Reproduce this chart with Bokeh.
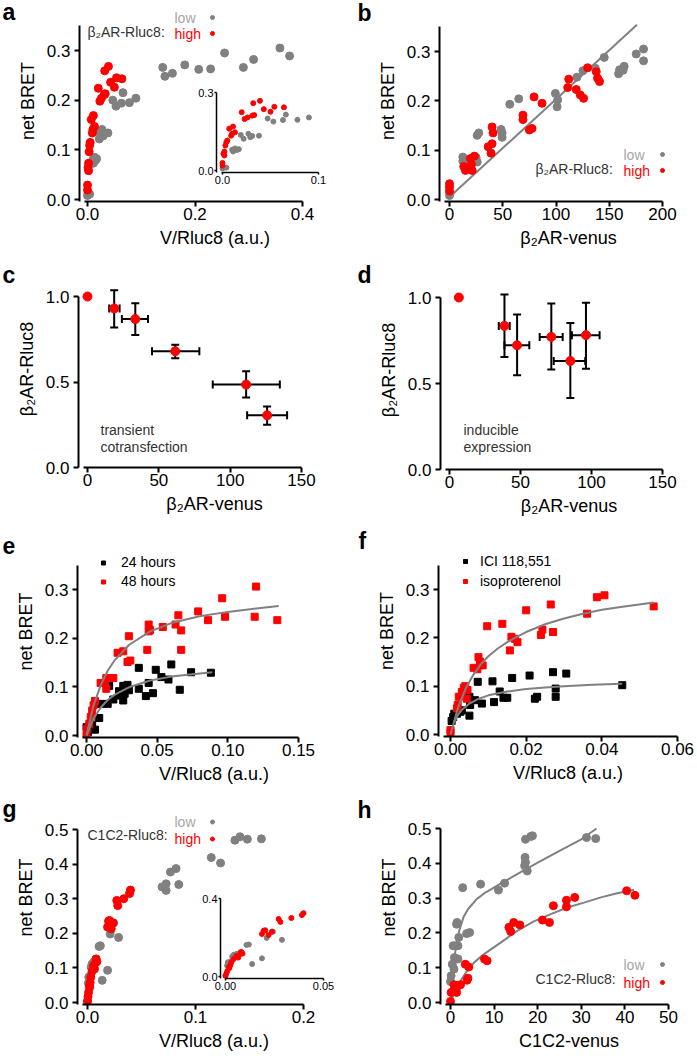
from bokeh.plotting import figure
from bokeh.models import (Range1d, Label, Legend, LegendItem, Whisker, TeeHead,
                          ColumnDataSource, FixedTicker, PrintfTickFormatter)
from bokeh.layouts import column, row
from bokeh.embed import file_html
from bokeh.resources import INLINE

# ---------------- data ----------------
# a: beta2AR-Rluc8 low / high, V/Rluc8 vs net BRET
a_low_x = [0.000, 0.001, 0.004, 0.010, 0.011, 0.013, 0.015, 0.017, 0.019, 0.022,
           0.027, 0.029, 0.031, 0.038, 0.047, 0.053, 0.063, 0.066, 0.078, 0.090,
           0.140, 0.144, 0.158, 0.181, 0.207, 0.229, 0.255, 0.290, 0.309, 0.358, 0.376]
a_low_y = [0.008, 0.013, 0.011, 0.080, 0.073, 0.085, 0.079, 0.082, 0.137, 0.122,
           0.141, 0.128, 0.133, 0.134, 0.200, 0.188, 0.194, 0.215, 0.195, 0.204,
           0.266, 0.248, 0.254, 0.271, 0.262, 0.263, 0.295, 0.266, 0.282, 0.305, 0.289]
a_high_x = [0.000, 0.000, 0.001, 0.002, 0.002, 0.003, 0.004, 0.005, 0.007, 0.009,
            0.010, 0.011, 0.013, 0.020, 0.023, 0.026, 0.031, 0.033, 0.032, 0.039,
            0.043, 0.050, 0.054, 0.064]
a_high_y = [0.019, 0.029, 0.064, 0.073, 0.058, 0.096, 0.109, 0.115, 0.161, 0.134,
            0.141, 0.169, 0.147, 0.224, 0.198, 0.204, 0.211, 0.213, 0.259, 0.268,
            0.236, 0.226, 0.245, 0.243]

# b: beta2AR-venus vs net BRET
b_low_x = [0, 0.5, 12.5, 12.5, 15, 26, 27.5, 26, 25, 48.4, 49.4, 49.4, 56.6, 65,
           99.4, 101.6, 101, 119.7, 125.3, 136.9, 145.3, 158.8, 159.7, 164, 163,
           175.3, 182.2, 182.2]
b_low_y = [0.008, 0.012, 0.086, 0.078, 0.080, 0.130, 0.135, 0.076, 0.085, 0.142,
           0.135, 0.126, 0.193, 0.204, 0.215, 0.202, 0.188, 0.248, 0.261, 0.266,
           0.288, 0.255, 0.263, 0.270, 0.262, 0.295, 0.305, 0.281]
b_high_x = [0, 0, 0, 13.4, 15, 19.7, 20.6, 21.3, 23.4, 36.3, 39, 40, 40, 40.9, 69,
            69, 75, 77.5, 79.4, 86.9, 112, 111, 119, 122.8, 125.9, 129.7, 137.8,
            139, 140.9]
b_high_y = [0.032, 0.025, 0.017, 0.067, 0.059, 0.083, 0.071, 0.059, 0.088, 0.107,
            0.094, 0.113, 0.147, 0.135, 0.171, 0.162, 0.141, 0.144, 0.208, 0.195,
            0.244, 0.227, 0.223, 0.212, 0.205, 0.267, 0.259, 0.246, 0.239]
b_line_x = [0, 176]
b_line_y = [0.005, 0.354]

# c: transient cotransfection (mean with x/y error bars)
c_x = [0, 18.7, 33.5, 61.5, 111.2, 125.9]
c_y = [1.0, 0.930, 0.868, 0.680, 0.485, 0.305]
c_x_lo = [0, 15.2, 24.1, 45.2, 87.8, 111.9]
c_x_hi = [0, 22.5, 42.4, 78.4, 134.8, 139.9]
c_y_lo = [1.0, 0.819, 0.775, 0.639, 0.410, 0.250]
c_y_hi = [1.0, 1.037, 0.961, 0.718, 0.563, 0.357]

# d: inducible expression
d_x = [6.6, 38.7, 47.6, 71.7, 85.1, 96.1]
d_y = [1.0, 0.835, 0.722, 0.771, 0.631, 0.781]
d_x_lo = [6.6, 34.7, 38.7, 63.5, 73.4, 86.2]
d_x_hi = [6.6, 42.4, 56.2, 79.7, 95.6, 105.7]
d_y_lo = [1.0, 0.654, 0.548, 0.581, 0.416, 0.586]
d_y_hi = [1.0, 1.017, 0.901, 0.965, 0.852, 0.969]

# e: 24 h / 48 h
e24_x = [0.000, 0.001, 0.004, 0.006, 0.009, 0.010, 0.015, 0.016, 0.019, 0.023,
         0.023, 0.026, 0.026, 0.027, 0.029, 0.030, 0.037, 0.037, 0.042, 0.044,
         0.047, 0.049, 0.053, 0.058, 0.060, 0.066, 0.074, 0.088]
e24_y = [0.017, 0.007, 0.022, 0.012, 0.036, 0.065, 0.065, 0.102, 0.074, 0.091,
         0.082, 0.102, 0.072, 0.086, 0.104, 0.093, 0.096, 0.139, 0.081, 0.108,
         0.087, 0.135, 0.120, 0.115, 0.146, 0.094, 0.130, 0.129]
e48_x = [0.000, 0.0005, 0.002, 0.003, 0.004, 0.005, 0.006, 0.010, 0.013, 0.014,
         0.014, 0.019, 0.022, 0.026, 0.029, 0.031, 0.030, 0.043, 0.044, 0.044,
         0.045, 0.054, 0.063, 0.065, 0.067, 0.067, 0.079, 0.086, 0.096, 0.098,
         0.119, 0.120, 0.135]
e48_y = [0.001, 0.014, 0.024, 0.038, 0.051, 0.062, 0.071, 0.108, 0.108, 0.096,
         0.118, 0.118, 0.170, 0.173, 0.151, 0.154, 0.204, 0.176, 0.228, 0.214,
         0.217, 0.223, 0.228, 0.247, 0.216, 0.176, 0.255, 0.237, 0.282, 0.244,
         0.244, 0.306, 0.237]
e24_fit_x = [0.0, 0.005, 0.010, 0.015, 0.020, 0.030, 0.045, 0.060, 0.075, 0.089]
e24_fit_y = [0.0, 0.035, 0.057, 0.073, 0.084, 0.099, 0.113, 0.121, 0.126, 0.130]
e48_fit_x = [0.0, 0.005, 0.010, 0.015, 0.020, 0.030, 0.045, 0.060, 0.080, 0.100, 0.120, 0.136]
e48_fit_y = [0.0, 0.062, 0.103, 0.133, 0.155, 0.186, 0.214, 0.231, 0.245, 0.254, 0.261, 0.266]

# f: ICI 118,551 / isoproterenol
fici_x = [0.0003, 0.0007, 0.001, 0.0017, 0.0026, 0.003, 0.005, 0.005, 0.0052, 0.0065,
          0.0072, 0.0083, 0.0111, 0.0115, 0.013, 0.014, 0.015, 0.0163, 0.0209, 0.0223,
          0.0229, 0.0271, 0.0278, 0.0278, 0.0306, 0.0454]
fici_y = [0.028, 0.036, 0.043, 0.043, 0.047, 0.050, 0.039, 0.078, 0.061, 0.071,
          0.109, 0.064, 0.110, 0.067, 0.089, 0.076, 0.076, 0.117, 0.122, 0.074,
          0.078, 0.129, 0.095, 0.078, 0.126, 0.102]
fiso_x = [0.0, 0.0, 0.0017, 0.0019, 0.0022, 0.003, 0.0035, 0.0039, 0.0045, 0.0043,
          0.0061, 0.0071, 0.0074, 0.0078, 0.0085, 0.0097, 0.0137, 0.0157, 0.0161, 0.0170,
          0.0177, 0.020, 0.0239, 0.0243, 0.0265, 0.0271, 0.0361, 0.0387, 0.0407, 0.0537]
fiso_y = [0.009, 0.004, 0.054, 0.061, 0.078, 0.088, 0.096, 0.100, 0.092, 0.074,
          0.138, 0.135, 0.160, 0.151, 0.143, 0.224, 0.229, 0.174, 0.202, 0.198,
          0.191, 0.257, 0.206, 0.217, 0.269, 0.212, 0.250, 0.284, 0.288, 0.265]
fici_fit_x = [0.001, 0.002, 0.003, 0.005, 0.0075, 0.010, 0.015, 0.020, 0.025, 0.030, 0.0375, 0.0454]
fici_fit_y = [0.026, 0.041, 0.051, 0.064, 0.074, 0.081, 0.089, 0.094, 0.097, 0.100, 0.103, 0.105]
fiso_fit_x = [0.0, 0.002, 0.004, 0.006, 0.008, 0.010, 0.0125, 0.015, 0.0175, 0.020,
              0.025, 0.030, 0.035, 0.040, 0.045, 0.0537]
fiso_fit_y = [0.0, 0.056, 0.095, 0.123, 0.145, 0.162, 0.178, 0.191, 0.202, 0.212,
              0.228, 0.240, 0.250, 0.258, 0.264, 0.273]

# g: C1C2-Rluc8 low / high, V/Rluc8 vs net BRET
g_low_x = [0.000, 0.0008, 0.0012, 0.0025, 0.0034, 0.0042, 0.0056, 0.0064, 0.0076, 0.0107,
           0.0119, 0.0136, 0.0186, 0.021, 0.0242, 0.0288, 0.069, 0.0728, 0.0728, 0.0768,
           0.082, 0.0845, 0.1146, 0.1232, 0.1365, 0.1412, 0.148, 0.161]
g_low_y = [0.005, 0.056, 0.073, 0.077, 0.102, 0.111, 0.116, 0.116, 0.124, 0.162,
           0.164, 0.064, 0.093, 0.198, 0.230, 0.188, 0.334, 0.343, 0.324, 0.377,
           0.387, 0.341, 0.419, 0.403, 0.469, 0.479, 0.472, 0.473]
g_high_x = [0.000, 0.0005, 0.001, 0.0017, 0.002, 0.0025, 0.003, 0.0042, 0.0056, 0.0065,
            0.0076, 0.008, 0.0087, 0.0186, 0.0195, 0.0203, 0.022, 0.0237, 0.0271, 0.028,
            0.0336, 0.039, 0.0398]
g_high_y = [0.003, 0.017, 0.029, 0.048, 0.044, 0.058, 0.073, 0.090, 0.106, 0.097,
            0.116, 0.126, 0.118, 0.218, 0.235, 0.237, 0.213, 0.230, 0.295, 0.280,
            0.300, 0.315, 0.325]

# h: C1C2-venus vs net BRET
h_low_x = [0, 0.15, 0.4, 0.6, 0.8, 0.9, 1.15, 1.4, 1.5, 1.7, 1.7, 1.9, 2.8, 3.7, 4.4,
           6.9, 11.0, 12.4, 17.0, 17.1, 17.2, 17.2, 17.6, 18.4, 18.8, 31.2, 33.3]
h_low_y = [0.060, 0.077, 0.110, 0.163, 0.096, 0.129, 0.163, 0.225, 0.230, 0.163, 0.125,
           0.187, 0.330, 0.198, 0.201, 0.340, 0.323, 0.343, 0.393, 0.417, 0.469, 0.403,
           0.378, 0.477, 0.479, 0.474, 0.471]
h_high_x = [0, 0.15, 0.8, 0.9, 1.4, 1.7, 2.3, 3.4, 4.2, 4.0, 3.8, 7.8, 8.4, 13.4, 13.8,
            14.5, 15.9, 21.1, 22.7, 23.6, 26.6, 26.6, 28.5, 40.4, 42.3]
h_high_y = [0.003, 0.029, 0.051, 0.035, 0.029, 0.048, 0.051, 0.110, 0.102, 0.070, 0.064,
            0.125, 0.120, 0.216, 0.204, 0.230, 0.223, 0.237, 0.230, 0.278, 0.294, 0.275,
            0.302, 0.321, 0.308]
h_low_fit_x = [0.05, 0.25, 0.5, 1.0, 1.5, 2.0, 3.0, 4.0, 6.0, 8.0, 12.0, 16.0, 20.0, 25.0, 30.0, 33.5]
h_low_fit_y = [0.012, 0.050, 0.086, 0.139, 0.175, 0.206, 0.246, 0.268, 0.297, 0.316,
               0.345, 0.374, 0.402, 0.436, 0.469, 0.500]
h_high_fit_x = [0.0, 0.5, 1.5, 2.5, 3.8, 5.5, 7.7, 11.5, 15.3, 19.1, 23.0, 26.8, 30.6, 34.5, 38.0, 42.1]
h_high_fit_y = [0.003, 0.016, 0.043, 0.066, 0.091, 0.116, 0.139, 0.172, 0.206, 0.233,
                0.254, 0.273, 0.287, 0.302, 0.313, 0.324]

# tick values
ticks_bret = [0.0, 0.1, 0.2, 0.3]
ticks_bret5 = [0.0, 0.1, 0.2, 0.3, 0.4, 0.5]
ticks_rel = [0.0, 0.5, 1.0]
ticks_a_x = [0.0, 0.2, 0.4]
ticks_venus = [0, 50, 100, 150, 200]
ticks_venus150 = [0, 50, 100, 150]
ticks_e_x = [0.0, 0.05, 0.10, 0.15]
ticks_f_x = [0.0, 0.02, 0.04, 0.06]
ticks_g_x = [0.0, 0.1, 0.2]
ticks_h_x = [0, 10, 20, 30, 40, 50]
ticks_ia_x = [0.0, 0.1]
ticks_ia_y = [0.0, 0.3]
ticks_ig_x = [0.0, 0.05]
ticks_ig_y = [0.0, 0.4]

panel_letters = ["a", "b", "c", "d", "e", "f", "g", "h"]

FONT = "Liberation Sans"
GRAY = "#808080"
RED = "#ff0000"
LOWTXT = "#a6a6a6"
DARK = "#333333"

B2_RLUC = "β₂AR-Rluc8"
B2_VENUS = "β₂AR-venus"


def lin(v0, p0, v1, p1):
    return lambda px: v0 + (px - p0) * (v1 - v0) / (p1 - p0)


def panel(fig_box, frame, xmap, ymap, xtop, ytop, xticks, yticks, xfmt, yfmt,
          xlabel=None, ylabel=None, small=False, styles=None):
    fx0, fy0, fwid, fhei = fig_box
    L, T, R, B = frame
    fx, fy = lin(*xmap), lin(*ymap)
    mbl, mbt = L - fx0, T - fy0
    fw, fh = R - L, B - T
    mbr, mbb = fwid - mbl - fw, fhei - mbt - fh
    kw = {"styles": styles} if styles else {}
    p = figure(frame_width=fw, frame_height=fh,
               min_border_left=mbl, min_border_right=mbr,
               min_border_top=mbt, min_border_bottom=mbb,
               x_range=Range1d(fx(L), fx(R)), y_range=Range1d(fy(B), fy(T)),
               output_backend="svg", toolbar_location=None, tools="", **kw)
    p.grid.visible = False
    p.outline_line_color = None
    p.background_fill_color = None
    p.border_fill_color = None
    for ax, tk, fmt in ((p.xaxis[0], xticks, xfmt), (p.yaxis[0], yticks, yfmt)):
        ax.ticker = FixedTicker(ticks=tk)
        ax.formatter = PrintfTickFormatter(format=fmt)
        ax.axis_line_width = 1.5 if small else 2
        ax.major_tick_line_width = 1.5 if small else 2
        ax.major_tick_out = 2 if small else 5
        ax.major_tick_in = 0
        ax.minor_tick_line_color = None
        ax.major_label_text_font = FONT
        ax.major_label_text_font_size = "11px" if small else "17px"
        ax.major_label_text_color = "black"
        ax.axis_label_text_font = FONT
        ax.axis_label_text_font_size = "18px"
        ax.axis_label_text_font_style = "normal"
        ax.axis_label_text_color = "black"
    p.xaxis.bounds = (fx(L + 5), xtop)
    p.yaxis.bounds = (fy(B), ytop)
    p.xaxis.major_label_standoff = 1
    p.yaxis.major_label_standoff = 1 if small else 4
    p.xaxis.axis_label_standoff = 5
    p.yaxis.axis_label_standoff = 6
    if xlabel:
        p.xaxis.axis_label = xlabel
    if ylabel:
        p.yaxis.axis_label = ylabel
    p._frame = frame
    return p


def page_label(p, text, px, py, size="14px", color=DARK, baseline="alphabetic"):
    L, T, R, B = p._frame
    p.add_layout(Label(x=px - L, y=B - py, x_units="screen", y_units="screen",
                       text=text, text_font=FONT, text_font_size=size,
                       text_color=color, text_baseline=baseline, text_align="left"))


def low_high_key(p, title, title_xy, r_low, r_high, text_x, dot_x, y_low, y_high):
    # "title:  low ●" / "high ●"  (swatch right of its text)
    page_label(p, title + ":", *title_xy)
    page_label(p, "low", text_x, y_low, color=LOWTXT, baseline="middle")
    page_label(p, "high", text_x, y_high, color=RED, baseline="middle")
    L, T, R, B = p._frame
    gw, gh = 10, y_high - y_low
    lg = Legend(items=[LegendItem(label=" ", renderers=[r_low]),
                       LegendItem(label=" ", renderers=[r_high])],
                location=(dot_x - gw / 2 - L, B - (y_high + gh / 2)),
                padding=0, margin=0, spacing=0, glyph_width=gw, glyph_height=int(gh),
                label_height=int(gh), label_standoff=0, label_width=1,
                label_text_font_size="10px",
                border_line_color=None, background_fill_alpha=0)
    p.add_layout(lg)


def box_legend(p, items, cx, cy0, item_h, text_x, gw=10):
    L, T, R, B = p._frame
    box_left = cx - gw / 2
    box_top = cy0 - item_h / 2
    lg = Legend(items=[LegendItem(label=t, renderers=[r]) for t, r in items],
                location=(box_left - L, B - (box_top + item_h * len(items))),
                padding=0, margin=0, spacing=0,
                glyph_width=gw, glyph_height=item_h, label_height=item_h,
                label_standoff=int(round(text_x - (box_left + gw))),
                label_text_font=FONT, label_text_font_size="14px",
                label_text_color="black", border_line_color=None,
                background_fill_alpha=0)
    p.add_layout(lg)


# ---------------- panel a ----------------
pa = panel((0, 0, 350, 270), (79, 0, 350, 201), (0, 87, 0.4, 302), (0, 199, 0.3, 50),
           0.4, 0.35, ticks_a_x, ticks_bret, "%.1f", "%.1f", "V/Rluc8 (a.u.)", "net BRET")
ra_low = pa.scatter(a_low_x, a_low_y, size=8, color=GRAY)
ra_high = pa.scatter(a_high_x, a_high_y, size=8, color=RED)
low_high_key(pa, B2_RLUC, (87, 31), ra_low, ra_high, 174, 212, 17, 33)

# inset a
ia = panel((192, 80, 138, 114), (216, 88, 322, 172), (0, 222, 0.1, 318), (0, 170, 0.3, 92),
           0.1, 0.3, ticks_ia_x, ticks_ia_y, "%.1f", "%.1f", small=True,
           styles={"position": "absolute", "left": "192px", "top": "80px"})
ia.scatter(a_low_x, a_low_y, size=5, color=GRAY)
ia.scatter(a_high_x, a_high_y, size=5, color=RED)

# ---------------- panel b ----------------
pb = panel((350, 0, 347, 270), (439, 0, 697, 201), (0, 449, 200, 662), (0, 199, 0.3, 51),
           200, 0.35, ticks_venus, ticks_bret, "%d", "%.1f", B2_VENUS, "net BRET")
pb.line(b_line_x, b_line_y, line_color=GRAY, line_width=2)
rb_low = pb.scatter(b_low_x, b_low_y, size=8, color=GRAY)
rb_high = pb.scatter(b_high_x, b_high_y, size=8, color=RED)
low_high_key(pb, B2_RLUC, (535, 168), rb_low, rb_high, 623, 662, 154, 170)


# ---------------- panels c, d ----------------
def err_panel(p, xs, ys, xlo, xhi, ylo, yhi):
    idx = [i for i in range(len(xs)) if xhi[i] > xlo[i]]
    src = ColumnDataSource(dict(x=[xs[i] for i in idx], y=[ys[i] for i in idx],
                                xlo=[xlo[i] for i in idx], xhi=[xhi[i] for i in idx],
                                ylo=[ylo[i] for i in idx], yhi=[yhi[i] for i in idx]))
    for base, lo, hi, dim in (("x", "ylo", "yhi", "height"), ("y", "xlo", "xhi", "width")):
        p.add_layout(Whisker(source=src, base=base, lower=lo, upper=hi, dimension=dim,
                             line_width=2, line_color="black",
                             upper_head=TeeHead(size=8, line_width=2, line_color="black"),
                             lower_head=TeeHead(size=8, line_width=2, line_color="black")))
    p.scatter(xs, ys, size=9, color=RED)


pc = panel((0, 270, 350, 255), (78, 270, 350, 467), (0, 87, 150, 301), (0, 467, 1.0, 296),
           150, 1.0, ticks_venus150, ticks_rel, "%d", "%.1f", B2_VENUS, B2_RLUC)
err_panel(pc, c_x, c_y, c_x_lo, c_x_hi, c_y_lo, c_y_hi)
page_label(pc, "transient", 100, 429)
page_label(pc, "cotransfection", 100, 446)

pd = panel((350, 270, 347, 255), (440, 270, 697, 469), (0, 449, 150, 662), (0, 469, 1.0, 297),
           150, 1.0, ticks_venus150, ticks_rel, "%d", "%.1f", B2_VENUS, B2_RLUC)
err_panel(pd, d_x, d_y, d_x_lo, d_x_hi, d_y_lo, d_y_hi)
page_label(pd, "inducible", 463, 429)
page_label(pd, "expression", 463, 446)

# ---------------- panel e ----------------
pe = panel((0, 525, 350, 265), (77, 525, 350, 737), (0, 86, 0.15, 298), (0, 735, 0.3, 589),
           0.15, 0.35, ticks_e_x, ticks_bret, "%.2f", "%.1f", "V/Rluc8 (a.u.)", "net BRET")
re24 = pe.scatter(e24_x, e24_y, marker="square", size=7, color="black")
re48 = pe.scatter(e48_x, e48_y, marker="square", size=7, color=RED)
pe.line(e24_fit_x, e24_fit_y, line_color=GRAY, line_width=2)
pe.line(e48_fit_x, e48_fit_y, line_color=GRAY, line_width=2)
box_legend(pe, [("24 hours", re24), ("48 hours", re48)], 103, 562.3, 19, 120.7)

# ---------------- panel f ----------------
pf = panel((350, 525, 347, 265), (438, 525, 697, 736), (0, 450, 0.06, 677), (0, 734, 0.3, 589),
           0.06, 0.35, ticks_f_x, ticks_bret, "%.2f", "%.1f", "V/Rluc8 (a.u.)", "net BRET")
rfici = pf.scatter(fici_x, fici_y, marker="square", size=7, color="black")
rfiso = pf.scatter(fiso_x, fiso_y, marker="square", size=7, color=RED)
pf.line(fici_fit_x, fici_fit_y, line_color=GRAY, line_width=2)
pf.line(fiso_fit_x, fiso_fit_y, line_color=GRAY, line_width=2)
box_legend(pf, [("ICI 118,551", rfici), ("isoproterenol", rfiso)], 465, 561, 20, 480)

# ---------------- panel g ----------------
pg = panel((0, 790, 350, 266), (77, 790, 350, 1004), (0, 87, 0.2, 303), (0, 1002, 0.5, 829),
           0.2, 0.5, ticks_g_x, ticks_bret5, "%.1f", "%.1f", "V/Rluc8 (a.u.)", "net BRET")
rg_low = pg.scatter(g_low_x, g_low_y, size=8, color=GRAY)
rg_high = pg.scatter(g_high_x, g_high_y, size=8, color=RED)
low_high_key(pg, "C1C2-Rluc8", (87, 834), rg_low, rg_high, 174, 212, 821, 838)

ig = panel((196, 886, 144, 114), (220, 894, 326, 978), (0, 225, 0.05, 323), (0, 976, 0.4, 898),
           0.05, 0.4, ticks_ig_x, ticks_ig_y, "%.2f", "%.1f", small=True,
           styles={"position": "absolute", "left": "196px", "top": "886px"})
ig.scatter(g_low_x, g_low_y, size=5, color=GRAY)
ig.scatter(g_high_x, g_high_y, size=5, color=RED)

# ---------------- panel h ----------------
ph = panel((350, 790, 347, 266), (440, 790, 697, 1004), (0, 450, 50, 668), (0, 1002, 0.5, 828),
           50, 0.5, ticks_h_x, ticks_bret5, "%d", "%.1f", "C1C2-venus", "net BRET")
ph.line(h_low_fit_x, h_low_fit_y, line_color=GRAY, line_width=2)
ph.line(h_high_fit_x, h_high_fit_y, line_color=GRAY, line_width=2)
rh_low = ph.scatter(h_low_x, h_low_y, size=8, color=GRAY)
rh_high = ph.scatter(h_high_x, h_high_y, size=8, color=RED)
low_high_key(ph, "C1C2-Rluc8", (535, 978), rh_low, rh_high, 623, 662, 964, 982)

# ---------------- panel letters (transparent overlay) ----------------
ov = figure(frame_width=697, frame_height=1056, min_border=0,
            x_range=Range1d(0, 697), y_range=Range1d(1056, 0),
            x_axis_type=None, y_axis_type=None, output_backend="svg",
            toolbar_location=None, tools="",
            styles={"position": "absolute", "left": "0px", "top": "0px",
                    "pointer-events": "none"})
ov.outline_line_color = None
ov.background_fill_color = None
ov.border_fill_color = None
letter_pos = [(2, 24), (357, 25), (2, 287), (357, 287), (2, 553), (358, 553), (2, 821), (357, 822)]
for letter, (lx, ly) in zip(panel_letters, letter_pos):
    ov.add_layout(Label(x=lx, y=ly, text=letter, text_font=FONT, text_font_size="23px",
                        text_font_style="bold", text_color="black"))

layout = column(row(pa, pb), row(pc, pd), row(pe, pf), row(pg, ph))

open("out.html", "w").write(file_html([layout, ia, ig, ov], INLINE))
